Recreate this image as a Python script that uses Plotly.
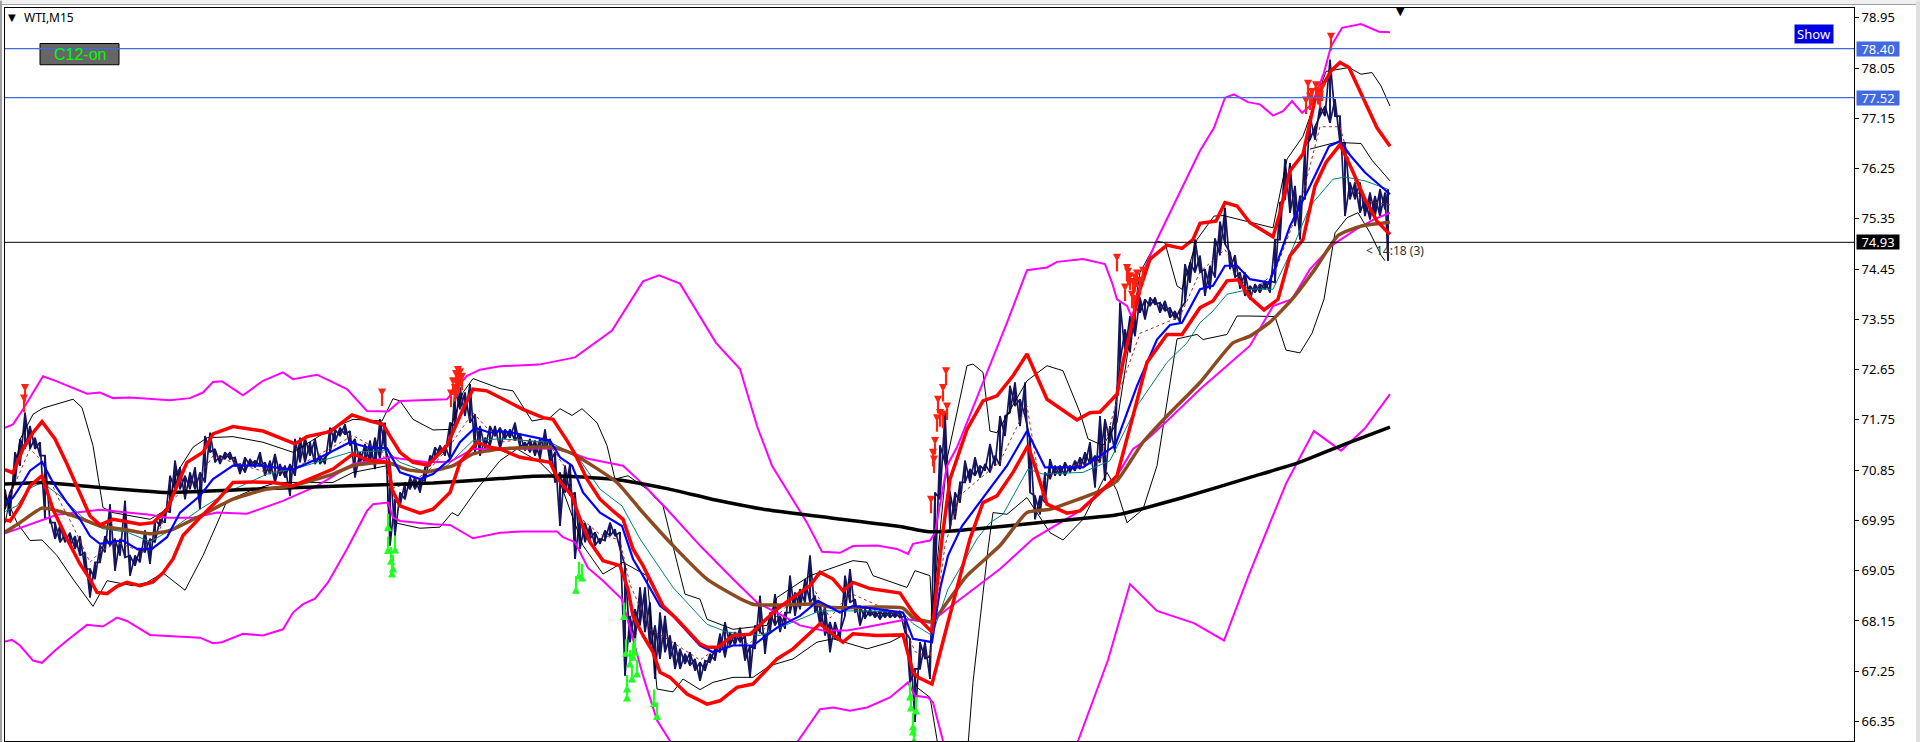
import plotly.graph_objects as go

title_text = "WTI,M15"
button_on_text = "C12-on"
button_show_text = "Show"
countdown_text = "< 14:18 (3)"
tick_vals = [78.95, 78.05, 77.15, 76.25, 75.35, 74.45, 73.55, 72.65, 71.75, 70.85, 69.95, 69.05, 68.15, 67.25, 66.35]
level_a = 78.40
level_b = 77.52
last_price = 74.93

bar_x = [5,10,15,20,25,30,35,40,45,50,
 55,60,65,70,75,80,85,90,95,100,
 105,110,115,120,125,130,135,140,145,150,
 155,160,165,170,175,180,185,190,195,200,
 205,210,215,220,225,230,235,240,245,250,
 255,260,265,270,275,280,285,290,295,300,
 305,310,315,320,325,330,335,340,345,350,
 355,360,365,370,375,380,385,390,395,400,
 405,410,415,420,425,430,435,440,445,450,
 455,460,465,470,475,480,485,490,495,500,
 505,510,515,520,525,530,535,540,545,550,
 555,560,565,570,575,580,585,590,595,600,
 605,610,615,620,625,630,635,640,645,650,
 655,660,665,670,675,680,685,690,695,700,
 705,710,715,720,725,730,735,740,745,750,
 755,760,765,770,775,780,785,790,795,800,
 805,810,815,820,825,830,835,840,845,850,
 855,860,865,870,875,880,885,890,895,900,
 905,910,915,920,925,930,935,940,945,950,
 955,960,965,970,975,980,985,990,995,1000,
 1005,1010,1015,1020,1025,1030,1035,1040,1045,1050,
 1055,1060,1065,1070,1075,1080,1085,1090,1095,1100,
 1105,1110,1115,1120,1125,1130,1135,1140,1145,1150,
 1155,1160,1165,1170,1175,1180,1185,1190,1195,1200,
 1205,1210,1215,1220,1225,1230,1235,1240,1245,1250,
 1255,1260,1265,1270,1275,1280,1285,1290,1295,1300,
 1305,1310,1315,1320,1325,1330,1335,1340,1345,1350,
 1355,1360,1365,1370,1375,1380,1385,1388]
bar_high = [70.50,70.45,71.17,71.40,71.88,71.64,71.43,71.35,71.11,70.00,
 69.91,69.85,69.70,69.73,69.67,69.67,69.38,69.08,69.20,69.50,
 69.67,70.24,69.62,69.62,70.30,69.32,69.32,69.44,69.77,69.62,
 69.97,69.97,70.15,70.75,71.02,70.90,70.75,70.81,70.90,70.81,
 71.46,71.52,71.23,71.11,71.17,71.17,71.08,70.96,71.08,71.05,
 71.02,71.17,70.99,71.02,71.14,70.96,70.93,70.96,71.41,71.43,
 71.43,71.35,71.41,71.11,71.08,71.61,71.58,71.61,71.67,71.55,
 71.41,71.17,71.32,71.38,71.43,71.76,71.70,70.99,70.33,70.45,
 70.63,70.72,70.72,70.69,70.90,71.11,71.26,71.29,71.29,71.70,
 72.30,72.33,72.24,72.39,71.85,71.64,71.43,71.64,71.64,71.61,
 71.58,71.58,71.70,71.50,71.35,71.41,71.38,71.41,71.58,71.41,
 71.17,70.81,70.93,70.96,70.45,70.03,69.91,69.85,69.74,69.62,
 69.77,69.91,69.79,69.74,69.14,68.24,68.36,68.75,68.75,68.48,
 68.07,68.30,68.24,67.89,67.77,67.65,67.56,67.59,67.47,67.41,
 67.44,67.56,67.65,67.92,68.13,67.95,67.95,68.03,67.89,67.71,
 68.07,68.60,67.89,68.30,68.63,68.24,68.30,68.96,68.66,68.72,
 68.90,69.32,68.60,68.48,68.42,68.13,68.13,67.95,68.96,69.08,
 68.54,68.42,68.36,68.36,68.33,68.33,68.33,68.33,68.30,68.33,
 68.24,67.83,67.29,67.77,67.77,67.53,70.45,71.29,71.88,70.45,
 70.45,70.63,71.02,70.87,71.08,70.93,70.96,71.32,71.11,71.82,
 71.82,72.36,72.42,72.12,72.42,71.41,70.39,70.39,70.81,71.05,
 70.93,70.93,70.99,70.93,71.02,71.08,71.17,71.35,71.11,71.82,
 71.76,71.64,71.88,73.85,73.37,73.61,73.79,73.94,73.91,73.94,
 73.94,73.85,73.88,73.76,73.70,73.73,74.54,74.57,74.98,74.69,
 74.45,74.51,75.00,75.30,75.55,74.75,74.70,74.39,74.39,74.15,
 74.18,74.18,74.24,74.24,74.98,75.64,76.42,76.35,75.94,75.76,
 76.65,77.19,77.00,77.37,77.37,78.20,77.49,77.19,76.71,76.00,
 76.00,76.00,75.70,75.82,75.76,75.88,75.82,75.88]
bar_low = [70.15,70.03,70.63,70.93,71.23,71.23,71.23,71.11,69.98,69.91,
 69.62,69.56,69.56,69.50,69.44,69.32,69.08,68.57,68.90,69.20,
 69.38,69.50,69.05,69.32,69.29,68.96,69.14,69.20,69.38,69.17,
 69.56,69.85,69.91,70.09,70.51,70.51,70.33,70.51,70.51,70.15,
 70.63,71.17,70.99,70.96,71.05,71.05,70.93,70.78,70.81,70.93,
 70.90,70.93,70.75,70.78,70.63,70.75,70.72,70.39,70.75,70.99,
 70.99,71.11,70.96,70.96,70.96,71.17,71.35,71.46,71.49,71.29,
 70.72,70.96,70.96,70.99,70.87,71.05,71.23,69.50,69.68,70.21,
 70.33,70.51,70.51,70.45,70.66,70.93,71.05,71.14,71.11,71.05,
 71.64,71.94,71.82,71.70,71.17,71.11,71.23,71.29,71.46,71.23,
 71.41,71.43,71.38,71.26,71.20,71.17,71.11,71.05,71.23,70.99,
 70.63,69.85,70.45,70.39,69.26,69.44,69.56,69.62,69.50,69.53,
 69.59,69.67,69.67,69.44,67.17,67.77,67.77,68.07,67.95,67.65,
 67.11,67.47,67.59,67.47,67.29,67.29,67.38,67.35,67.26,67.08,
 67.26,67.41,67.44,67.59,67.50,67.71,67.71,67.77,67.44,67.14,
 67.65,67.95,67.56,67.95,68.07,67.95,68.01,68.30,68.24,68.36,
 68.48,68.48,68.30,68.07,67.89,67.59,67.83,67.83,68.24,68.48,
 68.30,68.07,68.19,68.24,68.21,68.18,68.21,68.21,68.21,68.21,
 67.95,67.05,66.34,67.29,67.47,67.11,68.84,70.33,70.99,69.79,
 69.97,70.27,70.63,70.63,70.75,70.72,70.84,70.81,70.93,70.93,
 71.46,71.88,72.00,71.64,71.82,70.45,69.97,70.06,70.27,70.69,
 70.75,70.75,70.75,70.81,70.84,70.87,70.93,70.96,70.54,70.99,
 70.66,71.35,71.17,72.78,72.96,72.96,73.25,73.67,73.55,73.79,
 73.82,73.67,73.70,73.58,73.55,73.49,73.85,74.21,74.39,74.39,
 73.97,74.09,74.30,74.70,74.90,74.45,74.30,74.10,73.97,73.91,
 74.03,74.03,74.09,74.03,74.21,74.98,75.70,75.46,75.22,74.98,
 75.70,76.77,76.77,77.19,77.19,77.07,77.19,76.71,75.40,75.70,
 75.70,75.46,75.40,75.34,75.40,75.40,75.52,74.60]

ma200_x = [5,43,100,167,267,333,433,500,533,567,617,667,717,767,833,900,927,943,983,1050,1117,1183,1250,1298,1347,1390]
ma200_y = [70.60,70.63,70.54,70.45,70.52,70.56,70.62,70.70,70.74,70.74,70.68,70.52,70.31,70.14,69.99,69.84,69.75,69.75,69.81,69.93,70.05,70.36,70.72,70.98,71.33,71.62]

wide_upper_x = [5,13,23,43,57,87,100,113,130,170,190,203,213,222,243,263,283,293,317,347,367,388,400,447,467,480,500,539,575,612,643,659,680,716,740,757,772,793,807,822,840,853,877,897,908,913,930,935,947,957,983,1007,1027,1047,1057,1083,1105,1112,1117,1127,1132,1143,1157,1200,1214,1225,1234,1248,1260,1273,1283,1292,1302,1312,1324,1331,1342,1361,1379,1390]
wide_upper_y = [71.61,71.67,71.94,72.53,72.44,72.22,72.24,72.14,72.15,72.10,72.14,72.24,72.43,72.44,72.19,72.45,72.60,72.48,72.56,72.30,71.91,71.90,72.09,72.12,72.54,72.65,72.71,72.74,72.87,73.35,74.23,74.34,74.19,73.13,72.66,71.64,70.93,70.33,69.91,69.39,69.37,69.49,69.50,69.44,69.35,69.53,69.59,69.73,70.93,71.26,72.42,73.49,74.43,74.48,74.58,74.63,74.54,74.21,73.91,73.79,73.58,74.39,74.98,76.57,76.98,77.52,77.58,77.44,77.40,77.20,77.28,77.46,77.25,77.40,77.97,78.44,78.77,78.84,78.70,78.69]

wide_mid_x = [5,43,57,100,150,167,193,217,247,283,317,353,390,427,450,473,500,555,573,587,623,643,667,700,733,757,783,800,823,847,867,907,930,947,1000,1033,1077,1117,1133,1147,1167,1200,1250,1273,1292,1310,1333,1356,1374,1390]
wide_mid_y = [69.72,69.97,70.05,70.14,70.05,70.00,70.00,70.09,70.07,70.30,70.57,70.96,71.08,70.99,71.00,71.23,71.23,71.24,71.15,71.06,70.93,70.60,70.15,69.50,68.90,68.48,68.24,68.07,67.98,67.98,68.04,68.18,68.12,68.36,69.08,69.62,70.09,70.75,71.23,71.40,71.73,72.30,73.08,73.79,73.91,74.45,74.89,75.16,75.34,75.46]

wide_lower_x = [5,12,20,33,42,55,67,87,103,117,127,150,200,213,222,243,263,283,293,303,315,328,347,367,373,388,393,400,433,450,473,500,520,557,563,575,588,603,622,632,643,657,670,685,780,798,820,833,850,867,890,908,915,928,933,943,965,1060,1078,1108,1130,1157,1194,1224,1249,1286,1314,1341,1365,1390]
wide_lower_y = [67.78,67.81,67.71,67.44,67.40,67.62,67.80,68.08,68.05,68.21,68.15,67.90,67.85,67.75,67.77,67.92,67.89,68.00,68.30,68.45,68.55,68.84,69.44,70.12,70.24,70.27,70.00,69.94,69.88,69.87,69.63,69.73,69.75,69.75,69.65,69.56,69.10,68.87,68.54,67.89,67.17,66.37,66.00,65.40,65.40,66.00,66.57,66.60,66.54,66.60,66.78,67.05,66.81,66.78,66.69,66.00,65.40,65.40,66.00,67.45,68.81,68.33,68.11,67.80,68.98,70.61,71.55,71.20,71.60,72.21]

red_upper_x = [5,13,23,33,42,55,67,80,90,100,113,123,140,153,167,177,187,203,213,233,263,295,307,330,352,370,383,390,400,413,428,447,463,473,487,500,523,543,553,567,575,587,600,613,623,633,643,663,677,700,707,718,733,750,777,793,810,820,833,843,853,870,900,913,932,942,950,967,983,997,1013,1027,1047,1077,1090,1100,1117,1123,1140,1150,1167,1182,1193,1200,1216,1225,1237,1250,1273,1280,1290,1303,1315,1331,1340,1349,1361,1377,1390]
red_upper_y = [70.86,70.80,71.23,71.52,71.72,71.41,70.96,70.45,70.03,69.87,69.97,69.94,69.88,69.91,70.15,70.57,70.99,71.17,71.50,71.63,71.55,71.32,71.45,71.54,71.84,71.73,71.67,71.46,71.17,70.99,70.94,71.29,71.94,72.30,72.27,72.15,71.94,71.79,71.76,71.38,71.14,70.69,70.33,70.12,69.97,69.44,69.14,68.42,68.18,67.74,67.68,67.68,67.89,67.91,68.36,68.57,68.78,69.02,68.90,68.69,68.84,68.73,68.65,68.30,67.95,69.62,70.69,71.58,72.09,72.18,72.54,72.93,72.12,71.75,71.88,71.89,72.21,72.78,74.09,74.63,74.88,74.82,74.98,75.27,75.31,75.64,75.58,75.28,75.03,75.46,76.21,76.51,77.49,78.00,78.15,78.06,77.61,76.98,76.65]

red_lower_x = [5,10,20,30,42,53,67,80,90,97,107,117,127,140,153,163,173,183,200,217,233,253,273,293,317,333,353,370,388,392,400,420,433,450,460,477,490,500,520,550,558,572,580,590,603,620,628,633,643,653,660,670,687,707,720,737,753,777,793,820,830,843,853,877,903,913,918,932,947,970,983,997,1013,1028,1037,1047,1067,1080,1100,1117,1133,1147,1167,1182,1200,1213,1227,1238,1250,1264,1278,1290,1303,1315,1326,1340,1351,1365,1377,1390]
red_lower_y = [69.96,69.94,70.21,70.57,70.75,70.15,69.62,69.17,68.90,68.66,68.64,68.77,68.84,68.78,68.85,69.01,69.26,69.68,70.00,70.30,70.63,70.64,70.63,70.57,70.75,70.87,71.14,71.02,70.99,70.51,70.21,70.08,70.15,70.45,70.99,71.35,71.26,71.23,71.08,70.99,70.69,70.39,69.97,69.56,69.23,69.14,68.72,68.24,67.89,67.59,67.23,67.14,66.84,66.66,66.72,66.96,67.02,67.47,67.65,68.10,67.95,67.77,67.92,67.89,67.90,67.23,67.14,67.02,68.06,69.62,70.27,70.39,70.81,71.29,70.81,70.24,70.08,70.12,70.45,70.75,71.82,72.78,73.28,73.28,73.76,73.88,74.24,74.26,73.94,73.72,73.91,74.69,74.98,75.94,76.36,76.68,76.27,75.70,75.31,75.07]

blue_x = [5,13,23,30,42,53,67,80,90,100,113,123,137,152,167,180,200,213,233,260,293,317,350,367,387,400,420,433,450,460,475,490,500,513,550,560,572,583,600,622,633,643,660,673,700,713,733,753,777,800,818,840,853,903,913,932,940,948,962,983,1007,1027,1045,1083,1115,1137,1157,1170,1182,1200,1213,1225,1237,1250,1269,1276,1290,1310,1329,1340,1351,1365,1384,1390]
blue_y = [70.24,70.36,70.63,70.84,71.00,70.63,70.27,69.97,69.67,69.53,69.57,69.59,69.44,69.44,69.65,70.09,70.39,70.69,70.93,70.93,70.86,71.05,71.35,71.26,71.24,70.81,70.69,70.78,71.05,71.35,71.61,71.52,71.55,71.52,71.38,71.08,70.93,70.45,70.09,69.85,69.26,68.96,68.42,68.24,67.71,67.59,67.71,67.71,68.03,68.24,68.51,68.30,68.42,68.30,67.83,67.77,68.72,69.32,69.85,70.36,70.93,71.55,70.90,70.90,71.29,72.36,73.19,73.45,73.49,74.09,74.15,74.51,74.51,74.27,74.21,74.51,75.22,75.94,76.65,76.74,76.47,76.18,75.88,75.79]

teal_x = [5,17,28,42,60,83,103,127,150,170,200,227,267,300,350,387,400,427,447,473,500,550,577,600,622,640,673,707,727,760,793,820,867,903,913,932,948,977,990,1003,1028,1043,1083,1110,1137,1167,1187,1200,1213,1227,1250,1273,1292,1310,1333,1345,1365,1388]
teal_y = [70.11,70.21,70.51,70.63,70.39,70.00,69.80,69.74,69.57,69.77,70.15,70.45,70.78,70.90,71.17,71.20,70.99,70.81,70.93,71.38,71.41,71.35,71.11,70.51,70.21,69.62,68.75,68.09,67.95,67.89,68.13,68.33,68.33,68.30,68.10,67.89,68.72,69.62,69.91,70.06,70.87,70.78,70.81,71.02,72.00,72.78,73.13,73.49,73.70,74.00,74.09,74.09,74.80,75.58,76.06,76.10,76.03,75.88]

brown_x = [5,20,42,60,83,100,123,150,170,197,233,267,293,333,353,387,407,427,453,473,500,553,573,617,640,673,707,753,817,833,903,913,932,947,967,1000,1027,1050,1100,1117,1143,1167,1200,1233,1250,1270,1292,1315,1338,1361,1390]
brown_y = [69.74,69.91,70.17,70.11,69.97,69.85,69.79,69.71,69.77,70.00,70.33,70.51,70.57,70.78,70.93,70.99,70.86,70.82,70.93,71.14,71.23,71.26,71.14,70.63,70.15,69.50,68.90,68.45,68.45,68.39,68.38,68.21,68.14,68.48,68.96,69.50,70.09,70.15,70.48,70.66,71.35,71.82,72.42,73.13,73.25,73.50,73.91,74.45,75.05,75.22,75.29]

thin_upper_x = [5,13,20,33,43,73,82,93,100,103,113,150,167,177,193,207,233,263,293,330,353,382,393,400,413,433,450,463,473,500,513,532,550,560,572,582,597,607,615,628,647,663,677,685,700,707,723,733,767,777,810,833,853,867,873,907,915,930,932,947,967,973,983,990,997,1027,1047,1063,1080,1088,1103,1117,1140,1157,1165,1177,1182,1197,1214,1223,1246,1273,1287,1303,1326,1349,1361,1372,1381,1390]
thin_upper_y = [69.90,70.60,71.40,71.85,71.96,72.12,71.97,71.29,70.51,70.18,70.09,69.97,70.15,70.81,71.26,71.43,71.45,71.35,71.17,71.58,71.76,71.73,72.13,72.09,71.76,71.57,71.58,72.24,72.49,72.31,72.27,71.73,71.79,71.95,71.83,71.95,71.70,71.29,70.69,70.75,70.51,70.21,69.20,68.63,68.54,68.18,68.07,68.00,68.07,68.57,68.96,69.11,69.23,69.20,68.96,68.75,69.05,68.96,68.24,71.05,72.72,72.75,72.60,71.55,71.52,72.45,72.72,72.63,71.88,71.41,71.29,71.70,74.39,74.95,74.92,74.15,74.09,74.98,75.40,75.41,75.31,75.19,76.42,76.83,77.99,78.06,77.94,77.97,77.73,77.37]

thin_lower_x = [5,17,30,42,57,73,93,107,133,147,163,185,203,227,250,277,333,353,387,388,397,420,440,452,458,477,500,517,540,560,583,603,623,647,657,673,683,700,713,733,753,770,793,817,833,867,890,903,917,930,940,967,973,988,993,1007,1027,1050,1063,1083,1107,1117,1127,1143,1157,1177,1197,1203,1227,1237,1250,1275,1286,1300,1312,1324,1335,1347,1358,1370,1381,1385]
thin_lower_y = [70.40,69.91,69.59,69.60,69.32,68.90,68.41,68.87,68.78,68.84,69.01,68.70,69.32,70.30,70.48,70.63,70.63,70.81,70.93,70.20,69.90,69.81,69.83,70.09,70.03,70.51,71.02,71.23,70.99,70.63,69.50,68.99,69.20,68.96,66.93,66.88,67.11,66.92,67.05,67.14,67.14,67.35,67.47,67.77,67.83,67.65,67.77,67.89,66.96,66.78,65.70,65.70,67.05,69.44,70.09,70.06,70.36,69.73,69.60,69.97,70.81,70.48,69.91,70.15,70.93,73.20,73.28,73.19,73.28,73.61,73.61,73.60,73.00,72.95,73.30,73.91,75.10,75.37,75.46,75.10,74.70,74.60]

thin_extra_x = [1310,1336,1361,1372,1390]
thin_extra_y = [76.60,76.72,76.70,76.40,76.03]

fast_x = [10,20,30,43,57,73,90,100,117,143,160,173,200,213,233,267,293,317,353,383,390,410,427,450,473,500,520,550,565,580,600,620,630,650,670,700,720,750,775,810,830,850,900,915,930,945,960,1000,1027,1040,1060,1100,1120,1140,1180,1200,1225,1250,1275,1300,1320,1340,1360,1390]
fast_y = [70.40,70.81,71.23,71.00,70.39,69.85,69.20,69.38,69.56,69.38,69.80,70.33,70.75,71.11,70.99,70.81,70.87,71.11,71.47,71.17,70.51,70.63,70.81,71.29,71.88,71.35,71.40,71.30,70.90,70.00,69.70,69.60,68.80,68.00,67.80,67.45,67.70,67.75,68.20,68.85,68.20,68.65,68.25,67.60,67.50,69.50,70.40,71.00,72.00,70.60,70.90,71.00,72.30,73.30,73.60,74.40,74.80,74.00,74.40,75.60,77.00,77.00,75.70,75.60]

down_x = [25,24,382,453,456,458,460,462,455,459,457,451,946,943,938,947,940,937,943,935,933,934,931,1117,1127,1130,1137,1133,1143,1135,1125,1132,1134,1128,1140,1331,1308,1312,1316,1320,1322,1310,1318,1306]
down_y = [72.25,72.06,72.17,72.37,72.50,72.57,72.53,72.45,72.25,72.40,72.33,72.15,72.55,72.25,72.04,71.92,71.80,71.71,71.77,71.30,71.09,70.97,70.25,74.58,74.40,74.25,74.30,74.15,74.35,74.23,74.05,73.92,73.85,74.33,74.17,78.54,77.70,77.55,77.67,77.50,77.63,77.47,77.57,77.40]
up_x = [388,388,395,391,393,392,579,576,582,624,626,635,630,633,637,632,627,627,654,657,910,911,916,913,913,914]
up_y = [69.90,69.49,69.50,69.30,69.16,69.07,69.04,68.78,69.00,68.31,67.65,67.67,67.46,67.58,67.28,67.19,67.01,66.85,66.75,66.52,66.87,66.67,66.62,66.33,66.24,66.09]

price_x, price_y = [], []
for x, hi, lo in zip(bar_x, bar_high, bar_low):
    price_x += [x, x]
    price_y += [hi, lo]
weave_x, weave_y = [], []
for x, hi, lo in zip(bar_x, bar_high, bar_low):
    weave_x += [x, x]
    weave_y += [lo, hi]

fig = go.Figure()

def add_line(x, y, color, width, dash=None, smooth=False):
    line = dict(color=color, width=width, dash=dash)
    if smooth:
        line.update(shape="spline", smoothing=0.5)
    fig.add_trace(go.Scatter(x=x, y=y, mode="lines", line=line, hoverinfo="skip"))

def add_arrows(x, y, color, head, angle):
    fig.add_trace(go.Scatter(x=x, y=y, mode="markers", hoverinfo="skip",
        marker=dict(symbol="line-ns", size=8, standoff=4, angle=angle, line=dict(color=color, width=2.2), color=color)))
    fig.add_trace(go.Scatter(x=x, y=y, mode="markers", hoverinfo="skip",
        marker=dict(symbol=head, size=8, color=color, line=dict(width=0))))

add_line(price_x, price_y, "#14145f", 1.7)
add_line(weave_x, weave_y, "#14145f", 1.7)
add_line(thin_upper_x, thin_upper_y, "#000000", 1)
add_line(thin_lower_x, thin_lower_y, "#000000", 1)
add_line(thin_extra_x, thin_extra_y, "#000000", 1)
add_line(teal_x, teal_y, "#008080", 1)
add_line(fast_x, fast_y, "#a52a2a", 1, "dot")
add_line(wide_upper_x, wide_upper_y, "#ff00ff", 2)
add_line(wide_mid_x, wide_mid_y, "#ff00ff", 2)
add_line(wide_lower_x, wide_lower_y, "#ff00ff", 2)
add_line(ma200_x, ma200_y, "#000000", 3.5, smooth=True)
add_line(brown_x, brown_y, "#8b4a1f", 3.5, smooth=True)
add_line(blue_x, blue_y, "#0000ff", 2.2)
add_line(red_upper_x, red_upper_y, "#ff0000", 3.5)
add_line(red_lower_x, red_lower_y, "#ff0000", 3.5)
add_arrows(down_x, down_y, "#ff2010", "arrow-down", 0)
add_arrows(up_x, up_y, "#20ff20", "arrow-up", 180)

shapes = [
    dict(type="rect", xref="x", yref="y", x0=40, x1=119, y0=78.11, y1=78.49, fillcolor="#666666", line=dict(color="#000000", width=1), layer="above"),
    dict(type="line", xref="x", yref="y", x0=5, x1=1854, y0=level_a, y1=level_a, line=dict(color="#4169e1", width=1.3)),
    dict(type="line", xref="x", yref="y", x0=5, x1=1854, y0=level_b, y1=level_b, line=dict(color="#4169e1", width=1.3)),
    dict(type="line", xref="x", yref="y", x0=5, x1=1854, y0=last_price, y1=last_price, line=dict(color="#000000", width=1)),
    dict(type="rect", xref="paper", yref="paper", x0=-0.01, x1=1.04, y0=1.0055, y1=1.02, fillcolor="#f0f0f0", line=dict(width=0), layer="below"),
    dict(type="rect", xref="paper", yref="paper", x0=-0.01, x1=1.04, y0=1.0041, y1=1.0055, fillcolor="#a0a0a0", line=dict(width=0), layer="below"),
    dict(type="rect", xref="paper", yref="paper", x0=-0.01, x1=-0.0016, y0=-0.01, y1=1.01, fillcolor="#a0a0a0", line=dict(width=0), layer="below"),
    dict(type="rect", xref="paper", yref="paper", x0=1.0335, x1=1.04, y0=-0.01, y1=1.01, fillcolor="#e0e0e0", line=dict(width=0), layer="below"),
]

def label(value, color):
    return dict(x=1.00108, y=value, xref="paper", yref="y", text=f"{value:.2f}", showarrow=False, xanchor="left",
                font=dict(family="Noto Sans", size=13, color="white"), bgcolor=color, width=42, height=14, borderpad=0)

annotations = [
    label(level_a, "#4169e1"),
    label(level_b, "#4169e1"),
    label(last_price, "#000000"),
    dict(x=22, y=78.95, xref="x", yref="y", text=title_text, showarrow=False, xanchor="left",
         font=dict(family="Noto Sans", size=12, color="#000000")),
    dict(x=12, y=78.96, xref="x", yref="y", text="\u25bc", showarrow=False,
         font=dict(family="DejaVu Sans", size=10, color="#000000")),
    dict(x=1400, y=79.07, xref="x", yref="y", text="\u25bc", showarrow=False,
         font=dict(family="DejaVu Sans", size=11, color="#000000")),
    dict(x=79.5, y=78.293, xref="x", yref="y", text=button_on_text, showarrow=False,
         font=dict(family="Liberation Sans", size=16, color="#00ff00")),
    dict(x=1814, y=78.669, xref="x", yref="y", text=button_show_text, showarrow=False, width=38, height=18,
         font=dict(family="Noto Sans", size=13, color="#ffffff"), bgcolor="#0000e0", borderpad=0),
    dict(x=1364, y=74.79, xref="x", yref="y", text=countdown_text, showarrow=False, xanchor="left",
         font=dict(family="Noto Sans", size=12, color="#303030")),
]

fig.update_layout(
    width=1920, height=742, autosize=False, showlegend=False,
    margin=dict(l=5, r=66, t=8, b=1),
    paper_bgcolor="#ffffff", plot_bgcolor="#ffffff",
    shapes=shapes, annotations=annotations,
    xaxis=dict(range=[5, 1854], visible=True, showticklabels=False, ticks="", showgrid=False, zeroline=False,
               showline=True, linecolor="#000000", linewidth=1, mirror=True),
    yaxis=dict(range=[66.0, 79.126], side="right", tickmode="array", tickvals=tick_vals,
               ticktext=[f"{v:.2f}" for v in tick_vals], ticks="outside", ticklen=4, tickcolor="#000000",
               showgrid=False, zeroline=False, showline=True, linecolor="#000000", linewidth=1, mirror=True,
               tickfont=dict(family="Noto Sans", size=13, color="#000000")),
)

fig.write_html("out.html", config=dict(displayModeBar=False),
               post_script="document.body.style.margin='0';document.body.style.overflow='hidden';")
